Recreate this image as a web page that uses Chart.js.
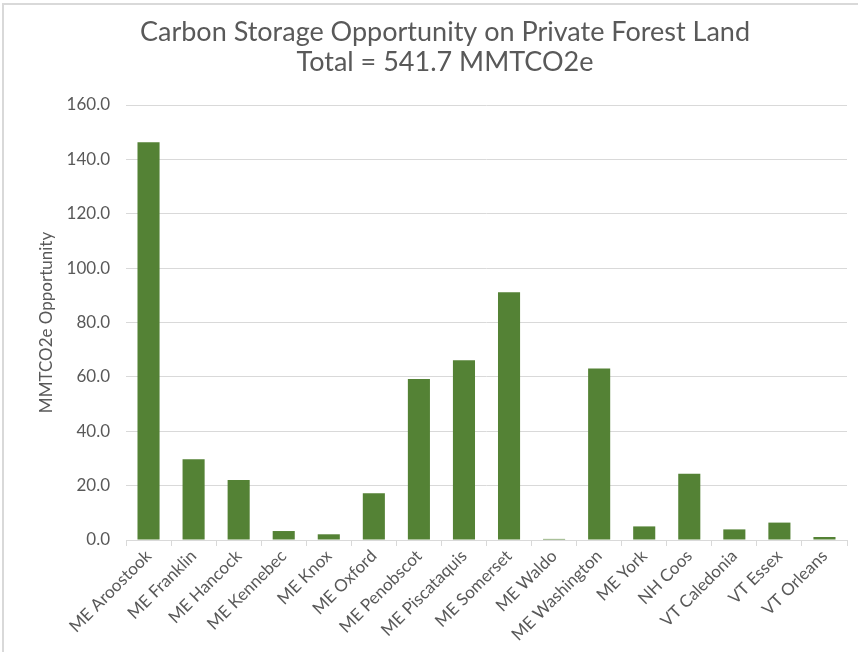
<!DOCTYPE html>
<html>
<head>
<meta charset="utf-8">
<script src="https://cdn.jsdelivr.net/npm/chart.js@4"></script>
<style>
  html, body { margin: 0; padding: 0; background: #fff; }
  #frame {
    position: absolute; left: 2px; top: 3px; width: 856px; height: 649px;
    border-top: 2px solid #d9d9d9; border-left: 2px solid #d9d9d9;
  }
  #chart { position: absolute; left: 0; top: 0; }
</style>
</head>
<body>
<div id="frame"></div>
<canvas id="chart" width="858" height="652"></canvas>
<script>
// counties and their storage opportunity (MMTCO2e)
const counties = [
  'ME Aroostook', 'ME Franklin', 'ME Hancock', 'ME Kennebec', 'ME Knox',
  'ME Oxford', 'ME Penobscot', 'ME Piscataquis', 'ME Somerset', 'ME Waldo',
  'ME Washington', 'ME York', 'NH Coos', 'VT Caledonia', 'VT Essex', 'VT Orleans'
];
const opportunity = [
  146.3, 29.7, 22.1, 3.3, 2.1,
  17.2, 59.2, 66.1, 91.1, 0.4,
  63.1, 5.0, 24.4, 3.9, 6.4, 1.1
];
const titleLines = ['Carbon Storage Opportunity on Private Forest Land', 'Total = 541.7 MMTCO2e'];
const yTitle = 'MMTCO2e Opportunity';

const textGrey = '#595959';
const lineGrey = '#d9d9d9';
const FONT = 'Lato, "Open Sans", sans-serif';

const ctx = document.getElementById('chart').getContext('2d');
new Chart(ctx, {
  type: 'bar',
  data: {
    labels: counties,
    datasets: [{
      data: opportunity,
      backgroundColor: '#548235',
      categoryPercentage: 1,
      barPercentage: 0.49
    }]
  },
  options: {
    responsive: false,
    animation: false,
    layout: { padding: { left: 43, right: 11, top: 0, bottom: 0 } },
    plugins: {
      legend: { display: false },
      tooltip: { enabled: false },
      title: {
        display: true,
        text: titleLines,
        color: textGrey,
        font: { family: FONT, size: 27, weight: 'normal', lineHeight: 30 / 27 },
        padding: { top: 17, bottom: 28 }
      }
    },
    scales: {
      x: {
        grid: { display: true, drawOnChartArea: false, color: lineGrey, tickLength: 6, offset: true },
        border: { color: lineGrey },
        ticks: {
          color: textGrey,
          font: { family: FONT, size: 17 },
          minRotation: 45, maxRotation: 45, autoSkip: false, padding: 0
        },
        afterFit: (scale) => { scale.height = 112; }
      },
      y: {
        min: 0, max: 160,
        grid: { color: lineGrey, drawTicks: false },
        border: { display: false },
        ticks: {
          stepSize: 20,
          color: textGrey,
          font: { family: FONT, size: 17 },
          padding: 16,
          callback: (v) => v.toFixed(1)
        },
        title: {
          display: true,
          text: yTitle,
          color: textGrey,
          font: { family: FONT, size: 17 },
          padding: { top: -7, bottom: 0 }
        },
        afterFit: (scale) => { scale.width = 83; }
      }
    }
  }
});
</script>
</body>
</html>
